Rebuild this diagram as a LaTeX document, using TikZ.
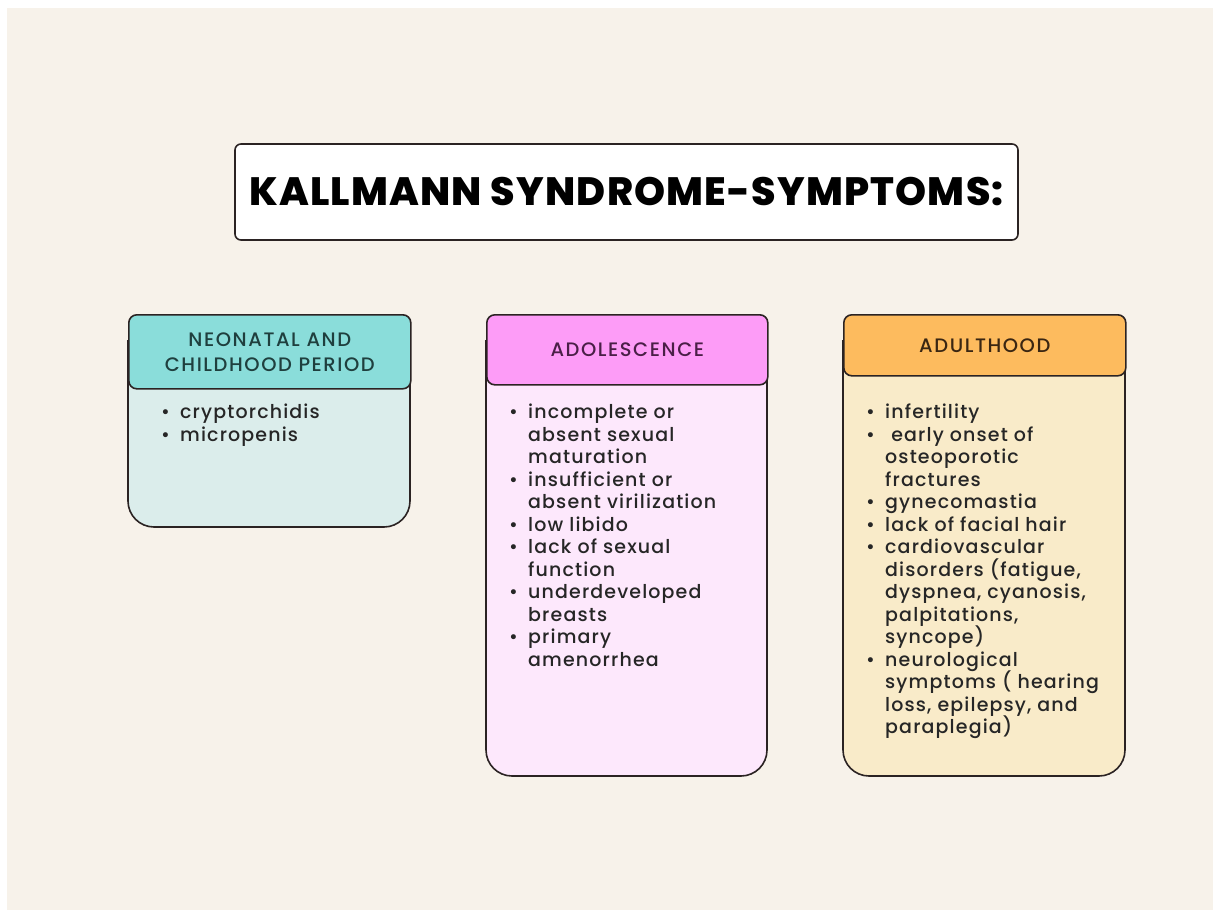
\documentclass[tikz,border=0pt]{standalone}
\usepackage{fontspec}
\setmainfont{Poppins}
\newfontfamily\titlefont{Poppins ExtraBold}[LetterSpace=3]
\newfontfamily\headfont{Poppins Medium}[LetterSpace=8]
\newfontfamily\bodyfont{Poppins Medium}[LetterSpace=6]
\usetikzlibrary{positioning}

\definecolor{paper}{HTML}{F7F2EA}
\definecolor{edgeline}{HTML}{2B2323}
\definecolor{tealhead}{HTML}{8ADDDA}
\definecolor{tealbody}{HTML}{DBEDEB}
\definecolor{tealtext}{HTML}{1F3F3E}
\definecolor{pinkhead}{HTML}{FD9CF7}
\definecolor{pinkbody}{HTML}{FDE8FC}
\definecolor{pinktext}{HTML}{4A1F47}
\definecolor{orangehead}{HTML}{FDBB5E}
\definecolor{orangebody}{HTML}{F9EBC9}
\definecolor{orangetext}{HTML}{3A2612}

\newcommand{\tightlines}{\lineskiplimit=-50pt\relax}
\tikzset{
  titlebox/.style={draw=edgeline, line width=1.6pt, fill=white, rounded corners=6pt,
    minimum width=783pt, minimum height=96pt, font=\titlefont\fontsize{39.5}{42}\selectfont},
  headbox/.style={draw=edgeline, line width=1.6pt, rounded corners=8pt, anchor=north west,
    minimum width=282pt, align=center, font=\headfont\fontsize{19.5}{25}\selectfont},
  bodybox/.style={draw=edgeline, line width=1.6pt, rounded corners=26pt},
  listtext/.style={anchor=north west, inner sep=0pt, align=left, text=black!85,
    font=\bodyfont\fontsize{19}{22.5}\selectfont\tightlines}
}
\newcommand{\bul}{\makebox[19pt][l]{\textbullet}}
\newcommand{\ind}{\hspace*{19pt}}

\begin{document}
\begin{tikzpicture}[x=1pt, y=-1pt]
	\useasboundingbox (0,0) rectangle (1213,910);
	\fill[white] (0,0) rectangle (1213,910);
	\fill[paper] (7,8) rectangle (1213,910);

	\node (title)[titlebox] at (626.5,192) {KALLMANN SYNDROME-SYMPTOMS:};

	% neonatal
	\draw[bodybox, fill=tealbody] (128,340) -- (128,527) -- (410,527) -- (410,340);
	\node (neohead)[headbox, fill=tealhead, minimum height=74pt, text=tealtext] at (128,314) {NEONATAL AND\\CHILDHOOD PERIOD};
	\node (neolist)[listtext] at (161,404) {\bul cryptorchidis\\
		\bul micropenis};

	% adolescence
	\draw[bodybox, fill=pinkbody] (486,340) -- (486,776) -- (767,776) -- (767,340);
	\node (adohead)[headbox, fill=pinkhead, minimum width=281pt, minimum height=70pt, text=pinktext] at (486,314) {ADOLESCENCE};
	\node (adolist)[listtext] at (509,404) {\bul incomplete or\\
		\ind absent sexual\\
		\ind maturation\\
		\bul insufficient or\\
		\ind absent virilization\\
		\bul low libido\\
		\bul lack of sexual\\
		\ind function\\
		\bul underdeveloped\\
		\ind breasts\\
		\bul primary\\
		\ind amenorrhea};

	% adulthood
	\draw[bodybox, fill=orangebody] (843,340) -- (843,776) -- (1125,776) -- (1125,340);
	\node (aduhead)[headbox, fill=orangehead, minimum height=61pt, text=orangetext] at (843,314) {ADULTHOOD};
	\node (adulist)[listtext] at (866,404) {\bul infertility\\
		\bul \ early onset of\\
		\ind osteoporotic\\
		\ind fractures\\
		\bul gynecomastia\\
		\bul lack of facial hair\\
		\bul cardiovascular\\
		\ind disorders (fatigue,\\
		\ind dyspnea, cyanosis,\\
		\ind palpitations,\\
		\ind syncope)\\
		\bul neurological\\
		\ind symptoms ( hearing\\
		\ind loss, epilepsy, and\\
		\ind paraplegia)};
\end{tikzpicture}
\end{document}
